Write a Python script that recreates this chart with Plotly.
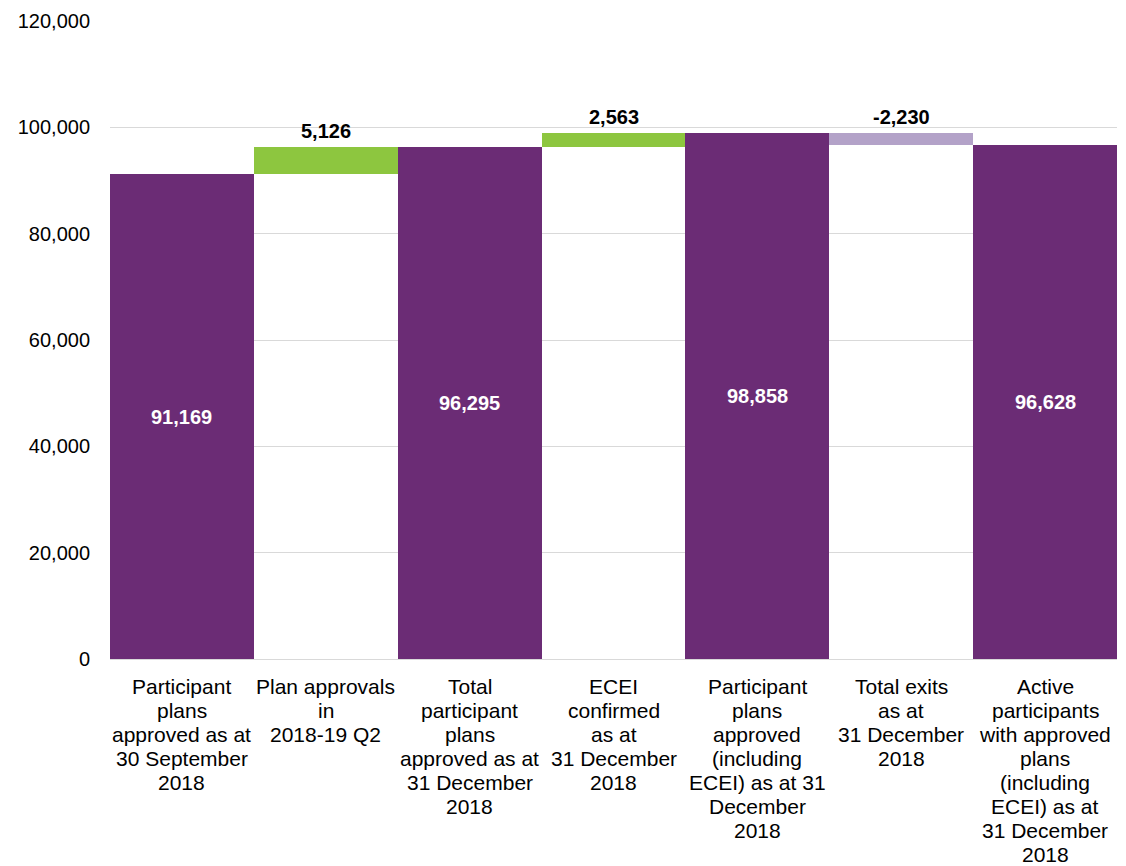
import plotly.graph_objects as go

# Participant plan counts, September to December 2018
categories = [
    "Participant<br>plans<br>approved as at<br>30 September<br>2018",
    "Plan approvals<br>in<br>2018-19 Q2",
    "Total<br>participant<br>plans<br>approved as at<br>31 December<br>2018",
    "ECEI<br>confirmed<br>as at<br>31 December<br>2018",
    "Participant<br>plans<br>approved<br>(including<br>ECEI) as at 31<br>December<br>2018",
    "Total exits<br>as at<br>31 December<br>2018",
    "Active<br>participants<br>with approved<br>plans<br>(including<br>ECEI) as at<br>31 December<br>2018",
]
values = [91169, 5126, 96295, 2563, 98858, -2230, 96628]
kinds = ["total", "delta", "total", "delta", "total", "delta", "total"]
y_ticks = [0, 20000, 40000, 60000, 80000, 100000, 120000]

PURPLE = "#6B2C75"
GREEN = "#8DC63F"
LILAC = "#B3A2C8"
FONT = "Liberation Sans, Arial"

# floating bars: each delta starts from the running total before it
bases, heights, colors = [], [], []
running = 0
for v, k in zip(values, kinds):
    if k == "total":
        bases.append(0)
        heights.append(v)
        colors.append(PURPLE)
        running = v
    else:
        if v >= 0:
            bases.append(running)
            heights.append(v)
            colors.append(GREEN)
        else:
            bases.append(running + v)
            heights.append(-v)
            colors.append(LILAC)
        running += v

fig = go.Figure(
    go.Bar(
        x=list(range(len(categories))),
        y=heights,
        base=bases,
        marker=dict(color=colors, line=dict(width=0)),
        hoverinfo="skip",
    )
)

annotations = []
# value labels: totals centred in white, changes above in black
for i, (v, k, b, h) in enumerate(zip(values, kinds, bases, heights)):
    label = f"{v:,}"
    if k == "total":
        annotations.append(dict(
            x=i, y=b + h / 2, text=f"<b>{label}</b>", showarrow=False,
            font=dict(family=FONT, size=20, color="white"),
        ))
    else:
        annotations.append(dict(
            x=i, y=b + h, text=f"<b>{label}</b>", showarrow=False,
            yanchor="bottom", yshift=3,
            font=dict(family=FONT, size=20, color="black"),
        ))

# category labels, one line at a time for tight line spacing
for i, cat in enumerate(categories):
    for j, line in enumerate(cat.split("<br>")):
        annotations.append(dict(
            x=i, xref="x", y=0, yref="paper", yanchor="middle",
            yshift=-(27 + 24 * j), text=line, showarrow=False,
            font=dict(family=FONT, size=21, color="black"),
        ))

fig.update_layout(
    width=1126,
    height=866,
    margin=dict(l=110, r=9, t=21, b=207),
    paper_bgcolor="white",
    plot_bgcolor="white",
    bargap=0,
    showlegend=False,
    annotations=annotations,
    font=dict(family=FONT, size=20, color="black"),
    xaxis=dict(
        tickvals=list(range(len(categories))),
        showticklabels=False,
        range=[-0.5, len(categories) - 0.5],
        showgrid=False,
        zeroline=False,
        showline=False,
        ticks="",
    ),
    yaxis=dict(
        range=[0, 120000],
        tickvals=y_ticks,
        tickformat=",d",
        showgrid=True,
        gridcolor="#D9D9D9",
        gridwidth=1,
        zeroline=True,
        zerolinecolor="#D9D9D9",
        zerolinewidth=1,
        showline=False,
        ticks="",
        tickfont=dict(size=20),
        ticklabelstandoff=19,
    ),
)

fig.write_html("out.html")
